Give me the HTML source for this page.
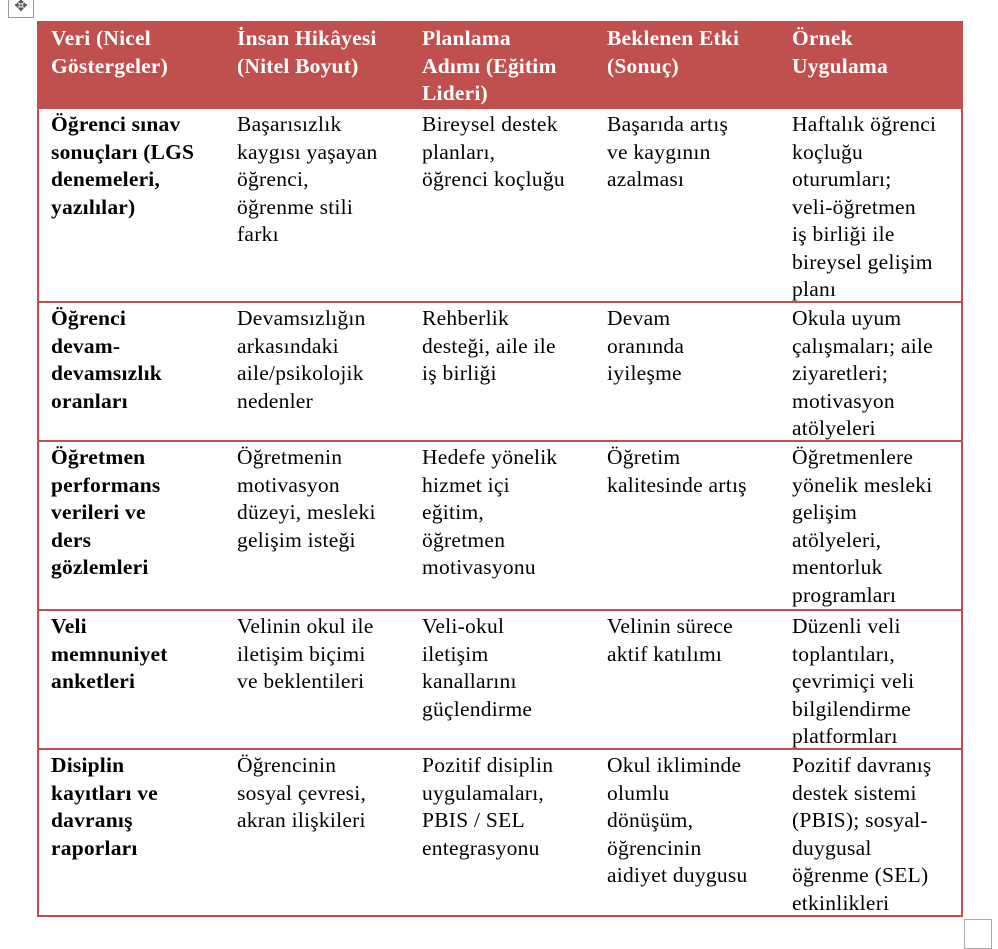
<!DOCTYPE html>
<html><head><meta charset="utf-8"><style>
body{margin:0;width:998px;height:946px;background:#fff;position:relative;overflow:hidden;font-family:"Liberation Serif",serif;}
.t{position:absolute;left:37px;top:21px;width:922px;height:894px;border:2px solid #C0504D;border-top:none;box-sizing:content-box}
.r{position:absolute;left:0;width:922px;border-top:2px solid #C0504D;}
.h{position:absolute;left:-2px;top:0;width:926px;height:86px;background:#C0504D;}
.c{position:absolute;top:0;font-size:21.5px;line-height:27.5px;color:#000;padding-top:2px;letter-spacing:0.25px;}
.h .c{color:#fff;font-weight:bold;top:2px;letter-spacing:0.2px}
.b{font-weight:bold;letter-spacing:0.2px}
</style></head><body>
<div style="position:absolute;left:8px;top:0;width:26px;height:18px;border:1px solid #999;border-top:none;box-sizing:border-box;color:#555;font-size:16px;line-height:14px;text-align:center">✥</div>
<div style="position:absolute;left:964px;top:919px;width:28px;height:30px;border:1.5px solid #aaa;box-sizing:border-box"></div>
<div class="t">
<div class="h">
<div class="c" style="left:14px">Veri (Nicel<br>Göstergeler)</div>
<div class="c" style="left:200px">İnsan Hikâyesi<br>(Nitel Boyut)</div>
<div class="c" style="left:385px">Planlama<br>Adımı (Eğitim<br>Lideri)</div>
<div class="c" style="left:570px">Beklenen Etki<br>(Sonuç)</div>
<div class="c" style="left:755px">Örnek<br>Uygulama</div>
</div>
<div class="r" style="top:86px;height:194px">
<div class="c b" style="left:12px">Öğrenci sınav<br>sonuçları (LGS<br>denemeleri,<br>yazılılar)</div>
<div class="c" style="left:198px">Başarısızlık<br>kaygısı yaşayan<br>öğrenci,<br>öğrenme stili<br>farkı</div>
<div class="c" style="left:383px">Bireysel destek<br>planları,<br>öğrenci koçluğu</div>
<div class="c" style="left:568px">Başarıda artış<br>ve kaygının<br>azalması</div>
<div class="c" style="left:753px">Haftalık öğrenci<br>koçluğu<br>oturumları;<br>veli-öğretmen<br>iş birliği ile<br>bireysel gelişim<br>planı</div>
</div>
<div class="r" style="top:280px;height:139px">
<div class="c b" style="left:12px">Öğrenci<br>devam-<br>devamsızlık<br>oranları</div>
<div class="c" style="left:198px">Devamsızlığın<br>arkasındaki<br>aile/psikolojik<br>nedenler</div>
<div class="c" style="left:383px">Rehberlik<br>desteği, aile ile<br>iş birliği</div>
<div class="c" style="left:568px">Devam<br>oranında<br>iyileşme</div>
<div class="c" style="left:753px">Okula uyum<br>çalışmaları; aile<br>ziyaretleri;<br>motivasyon<br>atölyeleri</div>
</div>
<div class="r" style="top:419px;height:169px">
<div class="c b" style="left:12px">Öğretmen<br>performans<br>verileri ve<br>ders<br>gözlemleri</div>
<div class="c" style="left:198px">Öğretmenin<br>motivasyon<br>düzeyi, mesleki<br>gelişim isteği</div>
<div class="c" style="left:383px">Hedefe yönelik<br>hizmet içi<br>eğitim,<br>öğretmen<br>motivasyonu</div>
<div class="c" style="left:568px">Öğretim<br>kalitesinde artış</div>
<div class="c" style="left:753px">Öğretmenlere<br>yönelik mesleki<br>gelişim<br>atölyeleri,<br>mentorluk<br>programları</div>
</div>
<div class="r" style="top:588px;height:139px">
<div class="c b" style="left:12px">Veli<br>memnuniyet<br>anketleri</div>
<div class="c" style="left:198px">Velinin okul ile<br>iletişim biçimi<br>ve beklentileri</div>
<div class="c" style="left:383px">Veli-okul<br>iletişim<br>kanallarını<br>güçlendirme</div>
<div class="c" style="left:568px">Velinin sürece<br>aktif katılımı</div>
<div class="c" style="left:753px">Düzenli veli<br>toplantıları,<br>çevrimiçi veli<br>bilgilendirme<br>platformları</div>
</div>
<div class="r" style="top:727px;height:167px">
<div class="c b" style="left:12px">Disiplin<br>kayıtları ve<br>davranış<br>raporları</div>
<div class="c" style="left:198px">Öğrencinin<br>sosyal çevresi,<br>akran ilişkileri</div>
<div class="c" style="left:383px">Pozitif disiplin<br>uygulamaları,<br>PBIS / SEL<br>entegrasyonu</div>
<div class="c" style="left:568px">Okul ikliminde<br>olumlu<br>dönüşüm,<br>öğrencinin<br>aidiyet duygusu</div>
<div class="c" style="left:753px">Pozitif davranış<br>destek sistemi<br>(PBIS); sosyal-<br>duygusal<br>öğrenme (SEL)<br>etkinlikleri</div>
</div>
</div>
</body></html>
